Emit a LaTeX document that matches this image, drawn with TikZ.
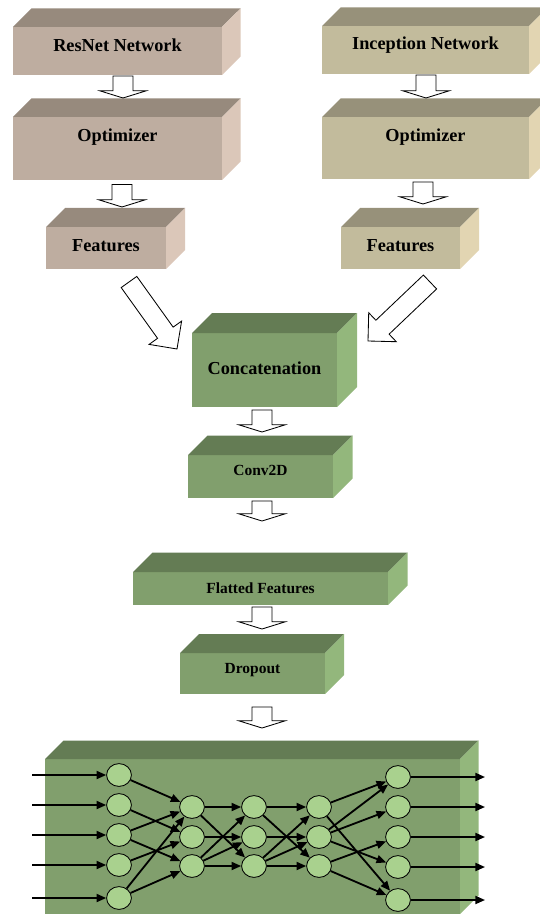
\documentclass[tikz,border=0pt]{standalone}
\usepackage{fontspec}
\setmainfont{Liberation Serif}
\usetikzlibrary{calc,shapes.geometric,arrows.meta}

\definecolor{rnfront}{HTML}{BEADA0}
\definecolor{rntop}{HTML}{978A7D}
\definecolor{rnside}{HTML}{DBC7B9}
\definecolor{infront}{HTML}{C2BB9C}
\definecolor{intop}{HTML}{97917A}
\definecolor{inside}{HTML}{E2D5B2}
\definecolor{gfront}{HTML}{819F6D}
\definecolor{gtop}{HTML}{647C54}
\definecolor{gside}{HTML}{93B77C}
\definecolor{neufill}{HTML}{A9D18E}

\tikzset{
  block/.style={fill=#1, inner sep=0pt, outer sep=0pt},
  boxsize/.style 2 args={minimum width=#1*0.25mm, minimum height=#2*0.25mm},
  big/.style={font=\bfseries\fontsize{13}{15}\selectfont},
  small/.style={font=\bfseries\fontsize{11}{13}\selectfont},
  hollow/.style={draw=black, fill=white, line width=0.6pt, line join=miter},
  neuron/.style={ellipse, draw, line width=0.6pt, fill=neufill, inner sep=0pt,
    minimum width=6.2mm, minimum height=5.7mm},
  link/.style={-{Triangle[length=2.4mm,width=2mm]}, line width=1.3pt}
}

% facce superiore e laterale di un blocco
\newcommand\faces[4]{%
  \fill[#2] (#1.north west) -- ++(#4,-#4) -- ($(#1.north east)+(#4,-#4)$) -- (#1.north east) -- cycle;
  \fill[#3] (#1.north east) -- ++(#4,-#4) -- ($(#1.south east)+(#4,-#4)$) -- (#1.south east) -- cycle;
}

% freccia vuota da #1 a #2 (mezza asta, mezza punta, lunghezza punta)
\newcommand\blockarrow[5]{%
  \coordinate (#1b) at ($(#2)!#5!(#1)$);
  \draw[hollow] ($(#1)!#3!90:(#2)$) -- ($(#1b)!#3!90:(#2)$) -- ($(#1b)!#4!90:(#2)$)
    -- (#2) -- ($(#1b)!#4!-90:(#2)$) -- ($(#1b)!#3!-90:(#2)$) -- ($(#1)!#3!-90:(#2)$) -- cycle;
}

\begin{document}
\begin{tikzpicture}[x=0.25mm, y=-0.25mm]
  \useasboundingbox (0,0) rectangle (539,914);

  % Colonna ResNet
  \node[block=rnfront, boxsize={209}{48}, label={[big,yshift=1.5mm]center:ResNet Network}] (resnet) at (117.5,51) {};
  \node[block=rnfront, boxsize={209}{63}, label={[big,yshift=2.9mm]center:Optimizer}] (optL) at (117.5,148.5) {};
  \node[block=rnfront, boxsize={120}{42}, label={[big,yshift=0.5mm]center:Features}] (featL) at (106,248) {};
  \faces{resnet}{rntop}{rnside}{18.5}
  \faces{optL}{rntop}{rnside}{18.5}
  \faces{featL}{rntop}{rnside}{19}

  % Colonna Inception
  \node[block=infront, boxsize={207}{48}, label={[big,yshift=1.3mm]center:Inception Network}] (incep) at (425.5,50) {};
  \node[block=infront, boxsize={207}{62}, label={[big,yshift=2.8mm]center:Optimizer}] (optR) at (425.5,148) {};
  \node[block=infront, boxsize={119}{42}, label={[big,yshift=0.5mm]center:Features}] (featR) at (400.5,248) {};
  \faces{incep}{intop}{inside}{18.5}
  \faces{optR}{intop}{inside}{18.5}
  \faces{featR}{intop}{inside}{19}

  % Blocchi verdi
  \node[block=gfront, boxsize={145}{74}, label={[big,yshift=0.5mm]center:Concatenation}] (concat) at (264.5,370) {};
  \node[block=gfront, boxsize={145}{43}, label={[small,yshift=1.4mm]center:Conv2D}] (conv) at (260.5,476.5) {};
  \node[block=gfront, boxsize={255}{33}, label={[small]center:Flatted Features}] (flat) at (260.5,588.5) {};
  \node[block=gfront, boxsize={145}{41}, label={[small,yshift=0.9mm]center:Dropout}] (drop) at (252.5,673.5) {};
  \node[block=gfront, boxsize={415}{155}] (net) at (252.5,836.5) {};
  \faces{concat}{gtop}{gside}{20}
  \faces{conv}{gtop}{gside}{19.5}
  \faces{flat}{gtop}{gside}{19.5}
  \faces{drop}{gtop}{gside}{19}
  \faces{net}{gtop}{gside}{18.5}

  % Frecce vuote
  \coordinate (a1) at ($(resnet.south)+(5.5,1)$);  \coordinate (a1t) at ($(optL.north)+(5.5,-19)$);
  \coordinate (a2) at ($(optL.south)+(4.5,4.5)$);  \coordinate (a2t) at ($(featL.north)+(16,-20)$);
  \coordinate (a3) at ($(incep.south)+(0.5,1)$);   \coordinate (a3t) at ($(optR.north)+(0.5,-19)$);
  \coordinate (a4) at ($(optR.south)+(-2.5,3)$);   \coordinate (a4t) at ($(featR.north)+(22.5,-23)$);
  \coordinate (a5) at ($(concat.south)+(-2.5,3)$); \coordinate (a5t) at ($(conv.north)+(1.5,-23)$);
  \coordinate (a6) at ($(conv.south)+(1.5,3)$);    \coordinate (a6t) at ($(flat.north)+(1.5,-51)$);
  \coordinate (a7) at ($(flat.south)+(1.5,2)$);    \coordinate (a7t) at ($(drop.north)+(9.5,-24)$);
  \coordinate (a8) at ($(drop.south)+(9.5,13)$);   \coordinate (a8t) at ($(net.north)+(9.5,-31)$);
  \foreach \k in {1,...,8} {
    \blockarrow{a\k}{a\k t}{2.5mm}{5.8mm}{1.8mm}
  }

  % Frecce diagonali verso la concatenazione
  \coordinate (dl) at ($(featL.south)+(23,13)$);   \coordinate (dlt) at ($(concat.north west)+(-15,16)$);
  \coordinate (dr) at ($(featR.south)+(29.5,13)$); \coordinate (drt) at ($(concat.north east)+(31,8)$);
  \blockarrow{dl}{dlt}{2.4mm}{5mm}{5mm}
  \blockarrow{dr}{drt}{2.4mm}{5mm}{5mm}

  % Rete neurale
  \foreach \y [count=\i] in {775,805,835,865,898} {
    \node[neuron] (i\i) at (119,\y) {};
    \coordinate (in\i) at (32,\y);
  }
  \foreach \y [count=\i] in {807,837,866} {
    \node[neuron] (h\i) at (192,\y) {};
    \node[neuron] (m\i) at (254,\y) {};
    \node[neuron] (k\i) at (319,\y) {};
  }
  \foreach \y [count=\i] in {777,807,837,867,900} {
    \node[neuron] (o\i) at (398,\y) {};
    \coordinate (out\i) at (485,\y);
  }
  \foreach \i in {1,...,5} {
    \draw[link] (in\i) -- (i\i);
    \draw[link] (o\i) -- (out\i);
  }
  \foreach \a/\b in {1/1,2/2,3/1,3/3,4/2,5/1,5/3}
    \draw[link] (i\a) -- (h\b);
  \foreach \a/\b in {1/1,1/3,2/2,3/3,3/1,3/2} {
    \draw[link] (h\a) -- (m\b);
    \draw[link] (m\a) -- (k\b);
  }
  \foreach \a/\b in {1/1,1/5,2/1,2/2,2/4,3/3,3/5}
    \draw[link] (k\a) -- (o\b);
\end{tikzpicture}
\end{document}
